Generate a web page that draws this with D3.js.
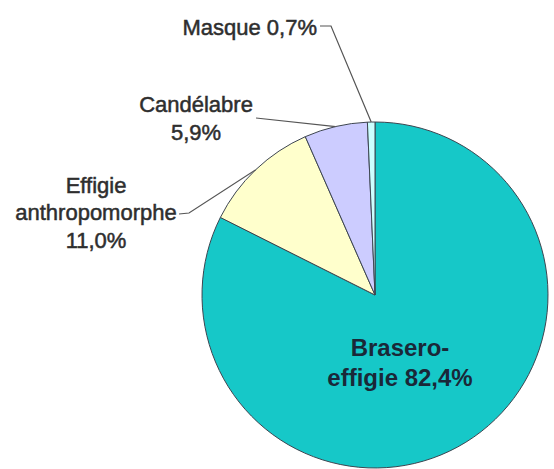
<!DOCTYPE html>
<html>
<head>
<meta charset="utf-8">
<script src="https://cdn.jsdelivr.net/npm/d3@7/dist/d3.min.js"></script>
<style>
  html, body { margin: 0; padding: 0; background: #ffffff; }
  svg { display: block; }
</style>
</head>
<body>
<svg id="chart" width="554" height="469"></svg>
<script>
// ---- Data ----
const categories = ["Brasero-effigie", "Effigie anthropomorphe", "Candélabre", "Masque"];
const values = [82.4, 11.0, 5.9, 0.7];
const valueLabels = ["82,4%", "11,0%", "5,9%", "0,7%"];
const colors = ["#16c8c8", "#ffffcc", "#ccccff", "#ccffff"];

// ---- Layout ----
const W = 554, H = 469;
const cx = 375, cy = 295, R = 173;
const svg = d3.select("#chart");
const g = svg.append("g").attr("transform", `translate(${cx},${cy})`);

const pie = d3.pie().sort(null).value(d => d.value).startAngle(0).endAngle(2 * Math.PI);
const data = categories.map((c, i) => ({ cat: c, value: values[i], label: valueLabels[i], color: colors[i] }));
const arcs = pie(data);
const arc = d3.arc().innerRadius(0).outerRadius(R);

g.selectAll("path.slice")
  .data(arcs)
  .enter().append("path")
  .attr("class", "slice")
  .attr("d", arc)
  .attr("fill", d => d.data.color)
  .attr("stroke", "#3d4550")
  .attr("stroke-width", 1);

// edge point of slice at mid angle
function edge(a) {
  const m = (a.startAngle + a.endAngle) / 2;
  return [cx + R * Math.sin(m), cy - R * Math.cos(m)];
}

const labelFont = "'Liberation Sans', Arial, sans-serif";
const labelColor = "#2e2e2e";

// Leader line layouts (label-side points), ends computed from pie geometry
const leaders = [
  null,
  [[179, 214], [189, 213]],
  [[256, 118]],
  [[320, 26], [331, 26]]
];
const line = d3.line();
arcs.forEach((a, i) => {
  if (!leaders[i]) return;
  const pts = leaders[i].concat([edge(a)]);
  svg.append("path")
    .attr("d", line(pts))
    .attr("fill", "none")
    .attr("stroke", "#555")
    .attr("stroke-width", 1.2);
});

// Labels
function addText(lines, x, ys, anchor, size, weight, color, sw) {
  lines.forEach((t, k) => {
    svg.append("text")
      .attr("x", x).attr("y", ys[k])
      .attr("text-anchor", anchor)
      .attr("font-family", labelFont)
      .attr("font-size", size)
      .attr("font-weight", weight)
      .attr("fill", color)
      .attr("stroke", color)
      .attr("stroke-width", sw)
      .text(t);
  });
}

// Masque
addText([categories[3] + " " + valueLabels[3]], 317, [35], "end", 22, "normal", labelColor, 0.5);
// Candélabre
addText([categories[2], valueLabels[2]], 196, [112, 140], "middle", 22, "normal", labelColor, 0.5);
// Effigie anthropomorphe
const eff = categories[1].split(" ");
addText([eff[0], eff[1], valueLabels[1]], 96, [193, 220, 248], "middle", 22, "normal", labelColor, 0.5);
// Brasero-effigie (inside)
const bra = categories[0].split("-");
addText([bra[0] + "-", bra[1] + " " + valueLabels[0]], 400, [356, 386], "middle", 24, "bold", "#1a2838", 0);
</script>
</body>
</html>
